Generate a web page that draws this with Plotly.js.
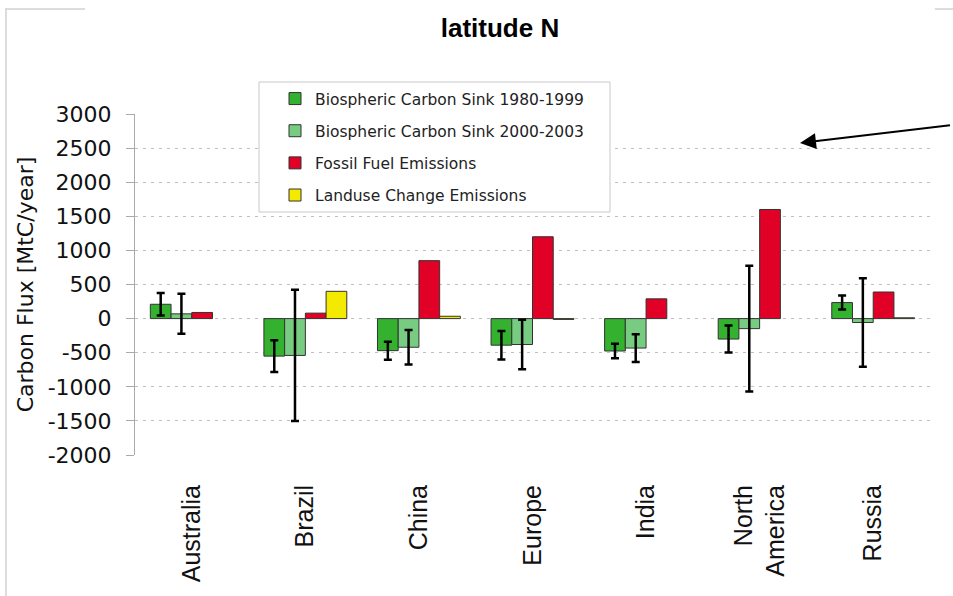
<!DOCTYPE html>
<html>
<head>
<meta charset="utf-8">
<script src="https://cdn.plot.ly/plotly-3.0.1.min.js"></script>
<style>html,body{margin:0;padding:0;background:#fff;}#chart{width:953px;height:596px;}</style>
</head>
<body>
<div id="chart"></div>
<script>
// ---- data ----
const categories = ['Australia', 'Brazil', 'China', 'Europe', 'India', 'North<br>America', 'Russia'];
const seriesNames = ['Biospheric Carbon Sink 1980-1999', 'Biospheric Carbon Sink 2000-2003', 'Fossil Fuel Emissions', 'Landuse Change Emissions'];
const sink8099 = [210, -550, -470, -390, -475, -300, 235];
const sink8099Err = [165, 233, 132, 208, 105, 198, 103];
const sink0003 = [70, -540, -420, -380, -432, -147, -57];
const sink0003Err = [293, 963, 254, 362, 203, 921, 650];
const fossil = [90, 80, 850, 1200, 290, 1600, 390];
const landuse = [null, 400, 34, -12, null, null, 12];
const yTicks = [3000, 2500, 2000, 1500, 1000, 500, 0, -500, -1000, -1500, -2000];

const colors = ['#33b12f', '#78cc82', '#e10026', '#f3ea00'];
const outline = {color: '#333333', width: 1};
const errStyle = {color: '#000000', thickness: 2.5, width: 4};

function barTrace(i, y, err) {
  const t = {
    type: 'bar', name: seriesNames[i], x: categories, y: y,
    legendgroup: 'g' + i,
    marker: {color: colors[i], line: outline}
  };
  if (err) t.error_y = Object.assign({type: 'data', array: err, visible: true}, errStyle);
  return t;
}

const traces = [
  barTrace(0, sink8099, sink8099Err),
  barTrace(1, sink0003, sink0003Err),
  barTrace(2, fossil, null),
  barTrace(3, landuse, null)
];

// helpers for decoration placement (paper coordinates from pixel positions)
const L = 135, R = 930, T = 114, B = 455;
const px = v => (v - L) / (R - L);
const py = v => (B - v) / (B - T);

const layout = {
  width: 953, height: 596,
  margin: {l: L, r: 953 - R, t: T, b: 596 - B},
  paper_bgcolor: '#ffffff', plot_bgcolor: '#ffffff',
  barmode: 'group', bargap: 0.27, bargroupgap: 0,
  showlegend: true,
  title: {
    text: 'latitude N', xref: 'container', yref: 'container',
    x: 500 / 953, xanchor: 'center', y: 1 - 28 / 596, yanchor: 'middle',
    font: {family: 'Liberation Sans, Arial, sans-serif', size: 26, color: '#000', weight: 'bold'}
  },
  xaxis: {
    type: 'category', range: [-0.5, 6.5],
    showline: false, ticks: '', showgrid: false, zeroline: false,
    tickangle: -90, ticklabelstandoff: 24,
    tickfont: {family: 'Liberation Sans, Arial, sans-serif', size: 25, color: '#111'}
  },
  yaxis: {
    range: [-2000, 3000], tickvals: yTicks, ticktext: yTicks.map(String),
    showline: true, linecolor: '#aaaaaa', linewidth: 1,
    ticks: 'outside', ticklen: 8, tickcolor: '#aaaaaa', tickwidth: 1,
    ticklabelstandoff: 10,
    showgrid: true, gridcolor: '#c0c0c0', gridwidth: 1, griddash: '3px,5px',
    zeroline: false,
    tickfont: {family: 'DejaVu Sans, sans-serif', size: 22, color: '#111'},
    title: {text: 'Carbon Flux [MtC/year]', standoff: 7,
            font: {family: 'DejaVu Sans, sans-serif', size: 22, color: '#111'}}
  },
  legend: {
    x: px(275), xanchor: 'left', y: py(82), yanchor: 'top',
    bgcolor: 'rgba(0,0,0,0)', borderwidth: 0,
    tracegroupgap: 9, traceorder: 'grouped',
    font: {family: 'DejaVu Sans, sans-serif', size: 15.5, color: '#222'}
  },
  shapes: [
    // legend frame
    {type: 'rect', xref: 'paper', yref: 'paper', x0: px(259), x1: px(610), y0: py(212), y1: py(82),
     line: {color: '#c8c8c8', width: 1}, fillcolor: '#ffffff', layer: 'above'},
    // slide frame lines
    {type: 'line', xref: 'paper', yref: 'paper', x0: px(6), x1: px(6), y0: py(9), y1: py(600),
     line: {color: '#d2d2d2', width: 1.5}},
    {type: 'line', xref: 'paper', yref: 'paper', x0: px(5), x1: px(85), y0: py(9), y1: py(9),
     line: {color: '#d2d2d2', width: 1.5}},
    {type: 'line', xref: 'paper', yref: 'paper', x0: px(935), x1: px(955), y0: py(9), y1: py(9),
     line: {color: '#d2d2d2', width: 1.5}}
  ],
  annotations: [
    {xref: 'paper', yref: 'paper', x: px(800), y: py(143), text: ' ',
     showarrow: true, ax: 160, ay: -18, arrowhead: 2, arrowsize: 1.6, arrowwidth: 2,
     arrowcolor: '#000', standoff: 0}
  ]
};

Plotly.newPlot('chart', traces, layout, {displayModeBar: false, staticPlot: true});
</script>
</body>
</html>
